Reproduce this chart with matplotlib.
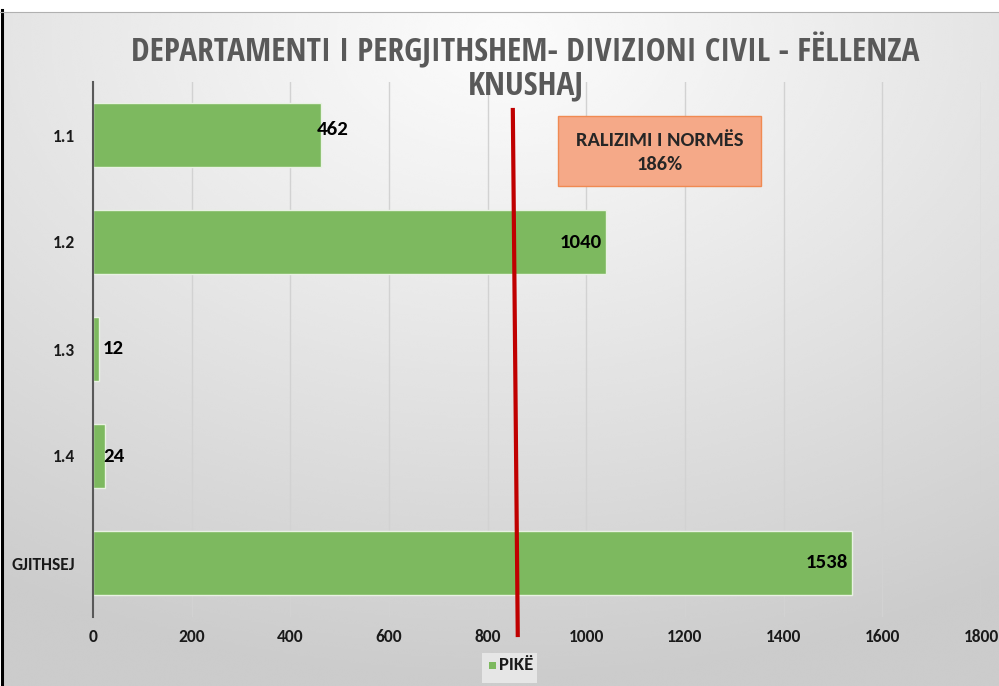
import numpy as np
import matplotlib
matplotlib.use("Agg")
import matplotlib.pyplot as plt
from matplotlib.patches import Rectangle, FancyBboxPatch
from matplotlib.lines import Line2D
from matplotlib import font_manager as fm

# ---- data ----
categories = ["1.1", "1.2", "1.3", "1.4", "GJITHSEJ"]
values = [462, 1040, 12, 24, 1538]
x_ticks = [0, 200, 400, 600, 800, 1000, 1200, 1400, 1600, 1800]
series_name = "PIKË"
title_lines = ["DEPARTAMENTI I PERGJITHSHEM- DIVIZIONI CIVIL - FËLLENZA", "KNUSHAJ"]
note_text = "RALIZIMI I NORMËS\n186%"
norm_line_x = [851, 861]   # red norm marker (top, bottom), slightly slanted

names = {f.name for f in fm.fontManager.ttflist}
def pick(cands, default):
    for c in cands:
        if c in names:
            return c
    return default

title_font = pick(["Open Sans Condensed", "Roboto Condensed", "Fira Sans Condensed",
                   "Encode Sans Condensed", "Archivo Narrow", "PT Sans Narrow",
                   "Asap Condensed", "Carlito"], "Lato")
lbl_font = pick(["Carlito", "Lato"], "DejaVu Sans")
plt.rcParams['font.family'] = [lbl_font, 'DejaVu Sans']
LBL_W = "bold"

W, H = 999, 686
fig = plt.figure(figsize=(W / 100, H / 100), dpi=100)
fig.patch.set_facecolor("white")

# background gradient panel
bg = fig.add_axes([3 / W, 0, 1 - 3 / W, (H - 12) / H])
bg.set_axis_off()
yy, xx = np.mgrid[0:300, 0:440]
cx, cy = 220, 10
d = np.sqrt(((xx - cx) / 440) ** 2 + ((yy - cy) / 300) ** 2)
d = np.clip(d / 0.95, 0, 1)
top, edge = 0.985, 0.80
img = top - (top - edge) * d ** 1.1
bg.imshow(img, cmap="gray", vmin=0, vmax=1, aspect="auto", extent=[0, 1, 0, 1],
          interpolation="bicubic")
bg.set_xlim(0, 1); bg.set_ylim(0, 1)
fig.add_artist(Line2D([1.5 / W, 1.5 / W], [0, 1 - 10 / H], color="black", lw=2.2,
                      transform=fig.transFigure))
fig.add_artist(Line2D([0, 1], [1 - 12 / H, 1 - 12 / H], color="#b0b0b0", lw=0.8,
                      transform=fig.transFigure))

ax = fig.add_axes([93 / W, 1 - 616.5 / H, (981 - 93) / W, (616.5 - 81.5) / H])
ax.patch.set_alpha(0)
ypos = np.arange(len(categories))
ax.barh(ypos, values, height=0.6, color="#7db95f", edgecolor="#e9f2e3",
        linewidth=1.0, zorder=3)
ax.set_xlim(0, 1800)
ax.set_ylim(len(categories) - 0.5, -0.5)
ax.set_xticks(x_ticks)
ax.set_xticklabels([str(t) for t in x_ticks], fontsize=12.5, fontweight=LBL_W,
                   color="#1a1a1a")
ax.set_yticks(ypos)
ax.set_yticklabels(categories, fontsize=12.5, fontweight=LBL_W, color="#1a1a1a")
ax.tick_params(axis="x", length=0, pad=9)
ax.tick_params(axis="y", length=0, pad=13)
ax.grid(axis="x", color="#d2d2d2", lw=1.0, zorder=0)
for s in ["top", "right", "bottom"]:
    ax.spines[s].set_visible(False)
ax.spines["left"].set_color("#595959")
ax.spines["left"].set_linewidth(1.5)
ax.spines["left"].set_zorder(4)

# data labels
DL = 15
for y, v in zip(ypos, values):
    if v > 800:
        ax.annotate(str(v), (v, y), xytext=(-3, 0), textcoords="offset points",
                    ha="right", va="center", fontsize=DL, fontweight=LBL_W,
                    color="black", zorder=5)
    elif v > 100:
        ax.annotate(str(v), (v, y), xytext=(-3, 4), textcoords="offset points",
                    ha="left", va="center", fontsize=DL, fontweight=LBL_W,
                    color="black", zorder=5)
    else:
        ax.annotate(str(v), (12, y), xytext=(3, 0),
                    textcoords="offset points", ha="left", va="center",
                    fontsize=DL, fontweight=LBL_W, color="black", zorder=5)

# red norm line (drawn beyond the plot area, like in the source)
ax.add_line(Line2D(norm_line_x, [(-0.5 + (110 - 81.5) / 107), 4.5 + (635 - 616.5) / 107],
                   color="#c00000", lw=3, clip_on=False, zorder=6))

# title, fitted to the reference width
t1 = fig.text(0.526, 1 - 51 / H, title_lines[0], ha="center", va="center",
              fontsize=22, fontweight="bold", color="#595959",
              family=[title_font, "DejaVu Sans"])
t2 = fig.text(0.526, 1 - 86 / H, title_lines[1], ha="center", va="center",
              fontsize=22, fontweight="bold", color="#595959",
              family=[title_font, "DejaVu Sans"])
fig.canvas.draw()
wpx = t1.get_window_extent().width
fs = min(24, 22 * 784 / wpx)
t1.set_fontsize(fs)
t2.set_fontsize(fs)

# note box
box = FancyBboxPatch((558 / W, 1 - 186 / H), (761 - 558) / W, (186 - 116) / H,
                     boxstyle="square,pad=0", transform=fig.transFigure,
                     facecolor="#f5a988", edgecolor="#f08a52", lw=1.0, zorder=7)
fig.add_artist(box)
fig.text(660 / W, 1 - 152 / H, note_text, ha="center", va="center", fontsize=14.8,
         fontweight=LBL_W, color="#262626", linespacing=1.5, zorder=8)

# legend
fig.add_artist(Rectangle((482 / W, 1 - 683 / H), (537 - 482) / W, (683 - 653) / H,
                         transform=fig.transFigure, facecolor="#e6e6e6",
                         edgecolor="none"))
fig.add_artist(Rectangle((489 / W, 1 - 669 / H), 7 / W, 7 / H,
                         transform=fig.transFigure, facecolor="#7db95f",
                         edgecolor="none"))
fig.text(499 / W, 1 - 665 / H, series_name, ha="left", va="center", fontsize=13.5,
         fontweight=LBL_W, color="#1a1a1a")

fig.savefig("out.png", dpi=100)
